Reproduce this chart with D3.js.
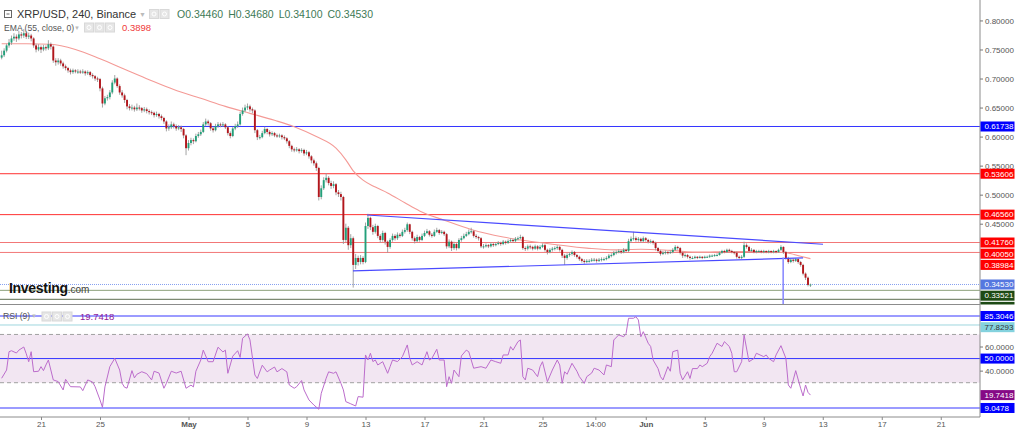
<!DOCTYPE html>
<html><head><meta charset="utf-8">
<script src="https://cdnjs.cloudflare.com/ajax/libs/d3/7.8.5/d3.min.js"></script>
<style>body{margin:0;background:#fff;}svg{display:block;font-family:"Liberation Sans",Arial,sans-serif;}</style>
</head><body><svg id="c" width="1024" height="430"></svg>
<script>
// ---------- DATA (4h candles, XRP/USD, from 2022-04-18 08:00 UTC) ----------
const firstOpen = 0.736;
const close = [
.740,.748,.757,.762,.769,.772,.769,.776,.774,.778,
.772,.774,.769,.757,.750,.754,.750,.754,.752,.759,
.755,.731,.728,.731,.726,.721,.718,.714,.711,.714,
.712,.712,.711,.712,.709,.711,.706,.704,.700,.699,
.683,.657,.666,.668,.676,.693,.700,.687,.676,.671,
.663,.652,.649,.650,.647,.650,.649,.645,.647,.644,
.642,.641,.637,.639,.635,.632,.626,.614,.616,.621,
.618,.614,.616,.613,.602,.580,.589,.594,.592,.601,
.604,.608,.621,.626,.623,.614,.611,.618,.621,.620,
.621,.616,.606,.601,.614,.618,.621,.639,.645,.650,
.652,.647,.645,.611,.599,.599,.606,.613,.608,.604,
.606,.602,.601,.602,.599,.597,.592,.584,.578,.577,
.578,.575,.577,.571,.573,.566,.559,.554,.546,.496,
.511,.525,.529,.520,.515,.518,.504,.501,.496,.422,
.443,.413,.425,.379,.391,.384,.391,.384,.446,.460,
.444,.436,.446,.429,.422,.434,.419,.410,.422,.429,
.425,.431,.429,.436,.439,.449,.436,.425,.420,.427,
.422,.429,.434,.437,.431,.429,.436,.439,.434,.436,
.432,.411,.419,.408,.415,.408,.422,.425,.429,.432,
.436,.437,.429,.427,.425,.411,.411,.413,.411,.415,
.413,.415,.417,.415,.419,.417,.420,.422,.420,.424,
.425,.427,.408,.407,.411,.410,.407,.411,.407,.410,
.413,.405,.401,.405,.407,.408,.410,.405,.395,.391,
.396,.398,.401,.396,.393,.389,.386,.384,.386,.386,
.388,.388,.386,.388,.389,.389,.391,.395,.396,.400,
.401,.403,.401,.405,.403,.420,.424,.425,.422,.424,
.420,.425,.422,.419,.420,.417,.408,.403,.398,.400,
.401,.400,.401,.405,.410,.408,.400,.395,.396,.393,
.391,.391,.393,.391,.393,.391,.393,.393,.395,.395,
.396,.396,.400,.403,.401,.405,.403,.401,.400,.393,
.391,.393,.413,.410,.403,.405,.401,.403,.403,.401,
.403,.401,.403,.401,.403,.401,.405,.410,.401,.391,
.384,.388,.386,.389,.384,.379,.364,.357,.3446,.3453];
const high = [
.748,.752,.760,.768,.774,.778,.776,.782,.780,.785,
.781,.779,.777,.771,.760,.759,.757,.758,.757,.766,
.762,.757,.735,.735,.734,.729,.724,.720,.717,.717,
.716,.716,.715,.716,.714,.714,.713,.709,.706,.703,
.701,.686,.670,.672,.680,.697,.706,.702,.690,.680,
.674,.665,.656,.655,.653,.657,.654,.651,.651,.650,
.647,.645,.643,.643,.641,.638,.634,.628,.621,.626,
.624,.621,.620,.619,.615,.604,.594,.598,.597,.605,
.608,.612,.625,.631,.629,.625,.617,.622,.625,.624,
.625,.623,.618,.609,.617,.622,.626,.643,.650,.655,
.657,.655,.650,.647,.613,.603,.610,.617,.615,.611,
.609,.608,.605,.605,.604,.602,.599,.594,.586,.581,
.582,.580,.580,.579,.577,.575,.568,.562,.557,.548,
.516,.530,.537,.532,.524,.523,.520,.508,.505,.498,
.450,.446,.432,.428,.398,.395,.396,.394,.452,.467,
.462,.448,.450,.448,.432,.438,.436,.421,.425,.433,
.432,.435,.434,.440,.443,.452,.450,.438,.428,.431,
.429,.433,.438,.441,.439,.434,.440,.443,.441,.439,
.438,.434,.423,.421,.419,.417,.425,.429,.433,.436,
.440,.443,.439,.432,.429,.427,.415,.416,.415,.418,
.417,.418,.420,.419,.422,.421,.423,.425,.424,.427,
.428,.431,.429,.411,.414,.414,.412,.414,.413,.413,
.416,.415,.407,.408,.410,.411,.413,.412,.407,.398,
.399,.401,.404,.403,.398,.395,.391,.389,.389,.389,
.391,.391,.390,.391,.392,.392,.394,.398,.399,.403,
.404,.406,.405,.408,.407,.424,.428,.436,.428,.427,
.426,.428,.427,.424,.423,.422,.419,.410,.405,.403,
.404,.403,.404,.408,.413,.412,.410,.402,.399,.398,
.395,.394,.395,.394,.395,.394,.395,.395,.397,.397,
.398,.399,.402,.405,.405,.407,.407,.405,.403,.402,
.395,.396,.419,.416,.412,.408,.406,.405,.405,.405,
.405,.404,.405,.404,.405,.404,.407,.413,.411,.403,
.393,.390,.390,.391,.390,.386,.381,.366,.359,.3468];
const low = [
.733,.737,.745,.753,.758,.765,.763,.766,.769,.770,
.768,.768,.764,.753,.745,.747,.744,.747,.748,.749,
.750,.727,.722,.724,.722,.717,.714,.710,.707,.708,
.709,.708,.708,.708,.705,.706,.703,.700,.696,.694,
.678,.650,.654,.662,.664,.673,.690,.684,.672,.667,
.658,.647,.645,.645,.643,.644,.645,.641,.642,.640,
.638,.637,.633,.634,.631,.628,.622,.609,.610,.613,
.614,.610,.611,.608,.597,.568,.576,.585,.587,.590,
.598,.601,.606,.618,.619,.610,.607,.609,.615,.616,
.617,.613,.602,.597,.599,.611,.615,.619,.636,.642,
.646,.643,.640,.606,.594,.595,.597,.604,.604,.600,
.601,.599,.598,.598,.595,.594,.588,.580,.574,.573,
.574,.571,.572,.567,.568,.562,.554,.550,.541,.490,
.492,.508,.521,.516,.510,.511,.499,.496,.490,.415,
.418,.405,.408,.340,.372,.378,.380,.380,.382,.441,
.439,.431,.433,.425,.417,.419,.414,.400,.407,.419,
.421,.422,.426,.427,.433,.436,.432,.421,.416,.418,
.419,.420,.427,.432,.428,.426,.427,.434,.431,.432,
.429,.407,.408,.403,.405,.404,.406,.419,.423,.427,
.430,.433,.426,.424,.421,.408,.407,.409,.408,.409,
.410,.411,.413,.412,.413,.414,.415,.418,.417,.418,
.421,.423,.405,.403,.404,.406,.404,.405,.404,.405,
.408,.402,.397,.399,.402,.404,.405,.402,.391,.379,
.388,.393,.395,.393,.390,.386,.383,.381,.382,.383,
.384,.385,.383,.384,.385,.386,.387,.389,.392,.394,
.397,.399,.398,.399,.400,.401,.417,.421,.419,.419,
.417,.418,.419,.416,.416,.414,.404,.400,.395,.396,
.397,.397,.398,.399,.403,.405,.397,.391,.392,.390,
.388,.389,.389,.389,.390,.389,.390,.391,.391,.393,
.393,.394,.395,.398,.399,.400,.401,.399,.397,.390,
.389,.389,.391,.407,.400,.401,.399,.399,.400,.399,
.399,.399,.399,.399,.399,.399,.400,.403,.398,.388,
.381,.382,.383,.384,.381,.376,.361,.353,.342,.3410];

// EMA(55, close): [candle index, value]
const emaPoints = [[0,.760],[10,.760],[20,.759],[30,.750],[40,.734],[50,.716],[60,.698],[70,.681],[81,.666],[91,.652],[101,.640],[111,.628],[119,.617],[128,.600],[136,.580],[140,.560],[143,.541],[147,.525],[152,.513],[157,.503],[164,.486],[170,.472],[180,.456],[191,.440],[204,.427],[218,.418],[238,.408],[249,.405],[260,.406],[272,.404],[284,.401],[296,.402],[309,.402],[319,.400],[325,.394],[329,.3898]];

// RSI(9): [candle index, value]
const rsiPoints = [[0,33.7],[2,40.5],[3,55.7],[4,56.5],[6,54.6],[7,57],[9,59.6],[10,54],[11,47.4],[12,55.7],[13,39.1],[15,39.5],[16,43.3],[17,40],[18,44.7],[19,48.8],[21,32.3],[23,30.9],[25,24],[26,32.8],[28,26.7],[32,26.5],[33,23.4],[35,32.3],[37,30.5],[38,26.7],[40,15.7],[41,9.6],[42,26.5],[44,43.3],[46,50.2],[48,40.5],[49,29.5],[50,26.2],[51,25.5],[53,40],[54,34],[55,37],[57,39.1],[59,37.5],[61,32.3],[62,39.5],[64,38],[66,25.4],[67,29.5],[69,39.5],[71,38],[73,39.5],[75,25.4],[77,28],[78,26.5],[79,39.5],[81,48.8],[82,57],[84,47.4],[86,47.4],[88,59.4],[90,55.5],[91,57],[92,37.8],[94,52],[96,56.5],[97,51],[98,66.8],[100,70.4],[101,65.5],[103,36.4],[104,33.5],[106,44.5],[108,39],[109,40.5],[111,43],[112,39],[114,41.7],[116,39],[117,28.1],[119,25.4],[120,26.7],[122,31.8],[123,24],[125,15.7],[127,11.5],[129,8],[130,21.2],[132,33.7],[133,39],[135,37.8],[136,39],[138,29.5],[139,24],[140,14.3],[142,12.5],[144,10.7],[145,18.5],[147,18],[148,53],[149,48.8],[150,54.4],[151,47.5],[152,48.8],[153,44.7],[155,47.4],[157,37.8],[158,43.3],[159,48.8],[161,47.5],[163,51.6],[165,61.3],[166,50.2],[167,44.7],[169,47.4],[171,44.7],[173,55.7],[174,48.8],[175,50.2],[177,57.7],[178,48.8],[180,48.8],[181,26.7],[182,35],[183,29.5],[184,40.5],[186,35],[187,52.2],[189,57],[190,55.7],[192,42],[195,43.3],[197,42],[199,48.8],[201,47.4],[203,46.1],[204,53],[206,53],[207,59.9],[208,57],[210,64],[211,65.4],[212,35],[213,32.3],[214,42],[216,40.5],[218,35],[219,43.3],[220,47.4],[222,30.9],[224,40.5],[226,48.8],[227,44.7],[228,29.5],[229,39.1],[230,37],[232,46.1],[234,39.5],[235,35],[237,29.5],[238,35],[240,38],[241,42],[243,40.5],[245,36.4],[246,44.7],[248,43.3],[249,65.4],[251,69.6],[253,68.1],[254,70.8],[255,83.4],[257,83.4],[258,84.7],[259,82],[260,68.1],[261,72.3],[263,62.7],[264,60],[265,48.8],[267,41.7],[268,35],[269,32.3],[271,43.3],[272,39.5],[273,55.7],[275,57],[276,37.8],[277,32.3],[279,39.1],[280,33.5],[281,41.7],[283,41.7],[284,44.7],[285,43.3],[287,46.1],[288,51.6],[289,54.4],[291,62.7],[293,60],[294,64],[296,60],[297,54.4],[298,39.1],[299,39.1],[301,47.4],[302,69.6],[304,47.4],[306,50],[307,54.4],[310,51.6],[311,53],[312,50.2],[314,47.4],[315,53],[317,60.7],[319,50.2],[320,28.1],[321,25.4],[322,32.3],[323,40],[325,25.4],[326,19],[327,28.1],[328,22],[329,19.7418]];

// Horizontal levels (price pane)
const levelValues = [0.61738, 0.53606, 0.46560, 0.41760, 0.40050, 0.33521, 0.31980];
const levelKinds  = ["blue", "red", "red", "redL", "redL", "green", "dkgreen"];
const lastPrice = 0.34530;
const emaLast = 0.38984;
// Trend lines: [candle index, price]
const upperTrend = [[148.6, 0.4650], [334.1, 0.4146]];
const lowerTrend = [[142.9, 0.3686], [326.0, 0.3910]];
const dropLine = [[317.9, 0.3916], [317.9, 0.2800]];
// RSI levels
const rsiLevels = [85.3046, 77.8293, 50, 9.0478];
const rsiLevelKinds = ["blueT", "cyan", "blue", "blueT"];
const rsiBand = [30, 70];
const rsiLast = 19.7418;
// Axis ticks
const priceTicks = [0.80, 0.75, 0.70, 0.65, 0.60, 0.55, 0.50, 0.45];
const rsiTicks = [60, 40];
const timeTicks = ["2022-04-21T00:00Z","2022-04-25T00:00Z","2022-05-01T00:00Z","2022-05-05T00:00Z","2022-05-09T00:00Z","2022-05-13T00:00Z","2022-05-17T00:00Z","2022-05-21T00:00Z","2022-05-25T00:00Z","2022-05-28T14:00Z","2022-06-01T00:00Z","2022-06-05T00:00Z","2022-06-09T00:00Z","2022-06-13T00:00Z","2022-06-17T00:00Z","2022-06-21T00:00Z"];
const timeLabels = ["21","25","May","5","9","13","17","21","25","14:00","Jun","5","9","13","17","21"];
const ohlcKeys = ["O","H","L","C"];
const ohlcVals = [0.34460, 0.34680, 0.34100, 0.34530];

// ---------- STYLES ----------
const lineStyle = {
  blue:{stroke:"#3434ff", bg:"#0000ff", fg:"#fff", w:1},
  red:{stroke:"#ff3030", bg:"#ff0000", fg:"#fff", w:1},
  redL:{stroke:"#f27777", bg:"#ff0000", fg:"#fff", w:1},
  green:{stroke:"#8ea27c", bg:"#1d4a14", fg:"#fff", w:1},
  dkgreen:{stroke:"#5e6f50", bg:"#1d4a14", fg:"#fff", w:1},
  blueT:{stroke:"#7a7aff", bg:"#0000ff", fg:"#fff", w:1.6},
  cyan:{stroke:"#9fd6df", bg:"#84d2de", fg:"#333", w:1}
};
const upCol = "#23a07a", dnCol = "#b3161c", wickCol = "#9a9a9a";

// ---------- SCALES ----------
const svg = d3.select("#c");
const PR = 980;               // plot right edge
const PB = 304.5;             // price pane bottom
const RB = 417;               // rsi pane bottom / x axis
const t0 = Date.UTC(2022,3,18,8);
const tOf = i => new Date(t0 + i*4*3600*1000);
const x = d3.scaleUtc().domain([new Date(Date.UTC(2022,3,21)), new Date(Date.UTC(2022,5,21))]).range([41, 940.75]);
const y = d3.scaleLinear().domain([0.3, 0.8]).range([310.8, 20.45]);
const yr = d3.scaleLinear().domain([0, 100]).range([418.9, 298.25]);

const defs = svg.append("defs");
defs.append("clipPath").attr("id","clipP").append("rect").attr("x",0).attr("y",0).attr("width",PR).attr("height",PB);
defs.append("clipPath").attr("id","clipR").append("rect").attr("x",0).attr("y",PB+1).attr("width",PR).attr("height",RB-PB-1.5);
defs.append("clipPath").attr("id","clipPL").append("rect").attr("x",PR).attr("y",0).attr("width",44).attr("height",PB);

// ---------- PRICE PANE ----------
const gP = svg.append("g").attr("clip-path","url(#clipP)");
levelValues.forEach((v,k)=>{
  const s = lineStyle[levelKinds[k]];
  gP.append("line").attr("x1",0).attr("x2",PR).attr("y1",y(v)).attr("y2",y(v))
    .attr("stroke",s.stroke).attr("stroke-width",s.w);
});
gP.append("line").attr("x1",0).attr("x2",PR).attr("y1",y(lastPrice)).attr("y2",y(lastPrice))
  .attr("stroke","#86a0f0").attr("stroke-width",1).attr("stroke-dasharray","1,1");

// EMA
gP.append("path").datum(emaPoints)
  .attr("d", d3.line().x(d=>x(tOf(d[0]))).y(d=>y(d[1])).curve(d3.curveMonotoneX))
  .attr("fill","none").attr("stroke","#f49a96").attr("stroke-width",1.1);

// Candles
const candles = close.map((c,i)=>({i, o: i ? close[i-1] : firstOpen, h: high[i], l: low[i], c}));
const gc = gP.append("g");
gc.selectAll("line.w").data(candles).join("line").attr("class","w")
  .attr("x1",d=>x(tOf(d.i))).attr("x2",d=>x(tOf(d.i)))
  .attr("y1",d=>y(d.h)).attr("y2",d=>y(d.l))
  .attr("stroke",wickCol).attr("stroke-width",0.9);
gc.selectAll("rect.b").data(candles).join("rect").attr("class","b")
  .attr("x",d=>x(tOf(d.i))-0.95).attr("width",1.9)
  .attr("y",d=>y(Math.max(d.o,d.c)))
  .attr("height",d=>Math.max(1, Math.abs(y(d.o)-y(d.c))))
  .attr("fill",d=>d.c>=d.o?upCol:dnCol);

// Trend lines
const tl = d3.line().x(d=>x(tOf(d[0]))).y(d=>y(d[1]));
gP.append("path").datum(upperTrend).attr("d",tl).attr("stroke","#4a4aff").attr("stroke-width",1.2).attr("fill","none");
gP.append("path").datum(lowerTrend).attr("d",tl).attr("stroke","#4a4aff").attr("stroke-width",1.2).attr("fill","none");
gP.append("path").datum(dropLine).attr("d",tl).attr("stroke","#8c8cff").attr("stroke-width",1.6).attr("fill","none");

// ---------- RSI PANE ----------
const gR = svg.append("g").attr("clip-path","url(#clipR)");
gR.append("rect").attr("x",0).attr("width",PR).attr("y",yr(rsiBand[1])).attr("height",yr(rsiBand[0])-yr(rsiBand[1])).attr("fill","#f2e6f2");
rsiBand.forEach(v=>gR.append("line").attr("x1",0).attr("x2",PR).attr("y1",yr(v)).attr("y2",yr(v))
  .attr("stroke","#a0a0a0").attr("stroke-dasharray","4,3").attr("stroke-width",1));
rsiLevels.forEach((v,k)=>{
  const s = lineStyle[rsiLevelKinds[k]];
  gR.append("line").attr("x1",0).attr("x2",PR).attr("y1",yr(v)).attr("y2",yr(v)).attr("stroke",s.stroke).attr("stroke-width",s.w);
});
gR.append("path").datum(rsiPoints)
  .attr("d", d3.line().x(d=>x(tOf(d[0]))).y(d=>yr(d[1])))
  .attr("fill","none").attr("stroke","#bb6ccb").attr("stroke-width",1);

// ---------- FRAME ----------
svg.append("line").attr("x1",0).attr("x2",PR).attr("y1",PB).attr("y2",PB).attr("stroke","#8c8c8c");
svg.append("line").attr("x1",0).attr("x2",PR).attr("y1",RB).attr("y2",RB).attr("stroke","#8c8c8c");
svg.append("line").attr("x1",PR).attr("x2",PR).attr("y1",0).attr("y2",RB).attr("stroke","#8c8c8c");

// Price axis ticks
const ax = svg.append("g").attr("transform",`translate(${PR},0)`)
  .call(d3.axisRight(y).tickValues(priceTicks).tickFormat(d3.format(".5f")).tickSize(3).tickPadding(2));
ax.select(".domain").remove();
ax.selectAll("line").attr("stroke","#777");
ax.selectAll("text").attr("fill","#555").attr("font-size",8).attr("font-family","Liberation Sans, Arial, sans-serif");

const axr = svg.append("g").attr("transform",`translate(${PR},0)`)
  .call(d3.axisRight(yr).tickValues(rsiTicks).tickFormat(d3.format(".4f")).tickSize(3).tickPadding(2));
axr.select(".domain").remove();
axr.selectAll("line").attr("stroke","#777");
axr.selectAll("text").attr("fill","#555").attr("font-size",8).attr("font-family","Liberation Sans, Arial, sans-serif");

// Time axis
const tDates = timeTicks.map(s=>new Date(s));
const axb = svg.append("g").attr("transform",`translate(0,${RB})`)
  .call(d3.axisBottom(x).tickValues(tDates).tickFormat((d,i)=>timeLabels[i]).tickSize(3).tickPadding(1));
axb.select(".domain").remove();
axb.selectAll("line").attr("stroke","#888");
axb.selectAll("text").attr("fill","#555").attr("font-size",8).attr("font-family","Liberation Sans, Arial, sans-serif")
  .attr("font-weight",(d,i)=>/^[A-Z]/.test(timeLabels[i])?"bold":"normal");

// ---------- RIGHT LABEL BOXES ----------
function boxes(g, items, fmt){
  items.sort((a,b)=>a.y-b.y);
  let prev = -1e9;
  items.forEach(it=>{ if(it.y < prev + 11.2) it.y = prev + 11.2; prev = it.y; });
  items.forEach(it=>{
    g.append("rect").attr("x",PR+0.5).attr("y",it.y-5).attr("width",34).attr("height",10).attr("fill",it.bg);
    g.append("text").attr("x",PR+4.5).attr("y",it.y).attr("dy","0.35em").attr("font-size",8)
      .attr("fill",it.fg).text(fmt(it.v));
  });
}
const gPL = svg.append("g").attr("clip-path","url(#clipPL)");
const pItems = levelValues.map((v,k)=>({v, y:y(v), bg:lineStyle[levelKinds[k]].bg, fg:"#fff"}));
pItems.push({v:emaLast, y:y(emaLast), bg:"#ff0000", fg:"#fff"});
pItems.push({v:lastPrice, y:y(lastPrice), bg:"#5577e0", fg:"#fff"});
boxes(gPL, pItems, d3.format(".5f"));
const gRL = svg.append("g");
const rItems = rsiLevels.map((v,k)=>({v, y:yr(v), bg:lineStyle[rsiLevelKinds[k]].bg, fg:lineStyle[rsiLevelKinds[k]].fg}));
rItems.push({v:rsiLast, y:yr(rsiLast), bg:"#860a86", fg:"#fff"});
boxes(gRL, rItems, d3.format(".4f"));

// ---------- HEADER / LEGENDS ----------
const H = svg.append("g");
H.append("rect").attr("x",4.5).attr("y",10.5).attr("width",7).attr("height",7).attr("fill","#fff").attr("stroke","#666");
H.append("line").attr("x1",6.5).attr("x2",9.5).attr("y1",14).attr("y2",14).attr("stroke","#666");
H.append("text").attr("x",17).attr("y",18).attr("font-size",11).attr("fill","#333").text("XRP/USD, 240, Binance");
H.append("text").attr("x",139).attr("y",17).attr("font-size",7).attr("fill","#bbb").text("▼");
function icons(x0, yy, n){
  for(let k=0;k<n;k++){
    H.append("rect").attr("x",x0+k*10.5).attr("y",yy).attr("width",9).attr("height",9).attr("fill","#e6e6e6").attr("stroke","#d8d8d8");
    H.append("circle").attr("cx",x0+k*10.5+4.5).attr("cy",yy+4.5).attr("r",2).attr("fill","none").attr("stroke","#fff").attr("stroke-width",1);
  }
}
icons(149.5, 9.5, 2);
let ox = 177;
ohlcKeys.forEach((k,i)=>{
  const t = H.append("text").attr("x",ox).attr("y",18).attr("font-size",10.5).attr("fill","#3e7a56")
    .text(k + d3.format(".5f")(ohlcVals[i]));
  ox += t.node().getComputedTextLength() + 5;
});
H.append("text").attr("x",4).attr("y",31).attr("font-size",8.6).attr("fill","#555").text("EMA (55, close, 0)");
H.append("text").attr("x",74).attr("y",30).attr("font-size",6).attr("fill","#bbb").text("▼");
icons(84.5, 23, 3);
H.append("text").attr("x",122).attr("y",31).attr("font-size",9.5).attr("fill","#f03a3a").text(d3.format(".4f")(emaLast));

H.append("text").attr("x",3).attr("y",319).attr("font-size",8.6).attr("fill","#555").text("RSI (9)");
H.append("text").attr("x",31).attr("y",318).attr("font-size",6).attr("fill","#bbb").text("▼");
icons(42, 312, 3);
H.append("text").attr("x",80).attr("y",319.5).attr("font-size",9.5).attr("fill","#8e1a9a").text(d3.format(".4f")(rsiLast));

// Logo
const L = H.append("text").attr("x",9).attr("y",293);
L.append("tspan").attr("font-size",14).attr("font-weight","bold").attr("fill","#111").attr("letter-spacing","-0.3").text("Investing");
L.append("tspan").attr("font-size",10).attr("fill","#444").text(".com");
</script></body></html>
